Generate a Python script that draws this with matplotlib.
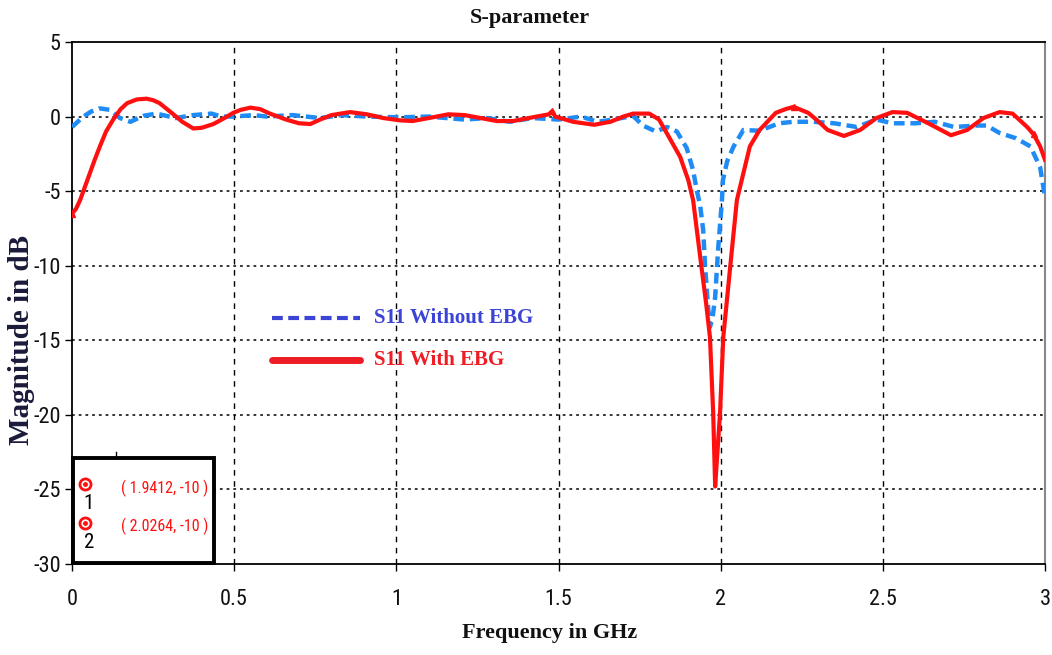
import matplotlib
matplotlib.use("Agg")
import matplotlib.pyplot as plt
from matplotlib import font_manager
from matplotlib.patches import Rectangle
from matplotlib.lines import Line2D

plt.rcParams["axes.unicode_minus"] = False

# S11 with EBG (GHz, dB)
freq_ebg = [0.0, 0.012, 0.025, 0.04, 0.055, 0.07, 0.086, 0.105, 0.127, 0.15, 0.17, 0.2, 0.23,
            0.25, 0.27, 0.29, 0.31, 0.34, 0.374, 0.40, 0.436, 0.47, 0.497, 0.52, 0.55, 0.58,
            0.61, 0.66, 0.70, 0.735, 0.765, 0.80, 0.857, 0.91, 0.96, 1.01, 1.05, 1.10, 1.16,
            1.21, 1.26, 1.31, 1.36, 1.42, 1.47, 1.48, 1.49, 1.545, 1.61, 1.66, 1.70, 1.73,
            1.78, 1.81, 1.84, 1.875, 1.90, 1.915, 1.94, 1.955, 1.967, 1.977, 1.983, 1.99,
            1.998, 2.008, 2.03, 2.05, 2.065, 2.09, 2.12, 2.17, 2.2, 2.225, 2.27, 2.30, 2.33,
            2.38, 2.43, 2.48, 2.53, 2.575, 2.64, 2.71, 2.76, 2.81, 2.86, 2.90, 2.945, 2.965,
            2.985, 3.0]
s11_ebg = [-6.5, -6.2, -5.6, -4.7, -3.8, -2.9, -2.0, -1.0, -0.2, 0.5, 0.9, 1.15, 1.2,
           1.1, 0.9, 0.55, 0.2, -0.35, -0.8, -0.75, -0.5, -0.1, 0.25, 0.45, 0.6, 0.5,
           0.2, -0.2, -0.45, -0.5, -0.2, 0.1, 0.3, 0.15, -0.1, -0.25, -0.3, -0.1, 0.15,
           0.1, -0.1, -0.3, -0.3, -0.05, 0.15, 0.35, 0.0, -0.35, -0.55, -0.35, 0.0, 0.2,
           0.2, -0.2, -1.35, -2.7, -4.25, -5.6, -9.95, -12.5, -14.8, -19.9, -24.8, -22.5,
           -19.9, -14.8, -9.95, -5.6, -4.25, -2.0, -0.9, 0.25, 0.5, 0.65, 0.25, -0.3, -0.9,
           -1.3, -0.9, -0.1, 0.3, 0.25, -0.45, -1.25, -0.9, -0.1, 0.3, 0.2, -0.7, -1.2,
           -2.0, -2.9]

# S11 without EBG (GHz, dB)
freq_plain = [0.0, 0.035, 0.06, 0.086, 0.117, 0.148, 0.18, 0.22, 0.26, 0.32, 0.374, 0.43,
              0.46, 0.5, 0.56, 0.60, 0.68, 0.765, 0.83, 0.91, 1.01, 1.1, 1.21, 1.28, 1.35,
              1.42, 1.50, 1.57, 1.62, 1.67, 1.73, 1.76, 1.80, 1.835, 1.865, 1.895, 1.915,
              1.926, 1.937, 1.946, 1.952, 1.96, 1.967, 1.975, 1.983, 1.992, 2.004, 2.007,
              2.02, 2.04, 2.07, 2.12, 2.18, 2.225, 2.285, 2.35, 2.42, 2.48, 2.53, 2.60,
              2.66, 2.72, 2.79, 2.82, 2.86, 2.91, 2.955, 2.985, 3.0]
s11_plain = [-0.7, 0.0, 0.35, 0.55, 0.45, -0.1, -0.35, 0.05, 0.2, -0.1, 0.1, 0.2,
             0.0, 0.0, 0.1, 0.0, 0.1, -0.1, 0.1, 0.0, -0.05, 0.0, -0.2, -0.1, -0.35,
             -0.1, -0.2, 0.0, -0.35, -0.2, 0.05, -0.6, -1.0, -0.7, -1.0, -2.1, -3.6,
             -4.9, -6.0, -7.6, -10.0, -12.5, -14.1, -13.5, -12.1, -8.95, -5.6, -4.25,
             -3.0, -2.0, -0.9, -0.95, -0.45, -0.35, -0.35, -0.45, -0.7, -0.2, -0.45, -0.45,
             -0.35, -0.7, -0.6, -0.6, -1.1, -1.45, -2.0, -3.4, -5.4]

# Small point markers sitting on the EBG trace
mark_freq = [0.0, 1.48, 2.225, 2.965]
mark_db = [-6.5, 0.35, 0.65, -1.2]

# Marker readouts (frequency, level)
readout_freq = [1.9412, 2.0264]
readout_db = [-10, -10]

x_ticks = [0, 0.5, 1, 1.5, 2, 2.5, 3]
x_tick_labels = ["0", "0.5", "1", "1.5", "2", "2.5", "3"]
y_ticks = [5, 0, -5, -10, -15, -20, -25, -30]

# pick a narrow sans face when one is available
available = {f.name for f in font_manager.fontManager.ttflist}
narrow = [n for n in ["Liberation Sans Narrow", "DejaVu Sans Condensed", "Roboto Condensed",
                      "Open Sans Condensed"] if n in available]
tick_font = narrow + ["Roboto", "DejaVu Sans"]
tick_stretch = "condensed"
label_font = ["Liberation Serif", "DejaVu Serif"]

fig = plt.figure(figsize=(10.52, 6.55), dpi=100)
ax = fig.add_axes([72 / 1052, 1 - 564 / 655, (1045 - 72) / 1052, (564 - 42) / 655])

ax.set_xlim(0, 3)
ax.set_ylim(-30, 5)

# grid: dotted horizontals, dashed verticals
for y in y_ticks[1:-1]:
    ax.axhline(y, color="black", lw=1.1, ls=(0, (1.8, 2.6)), zorder=1)
for x in x_ticks[1:-1]:
    ax.axvline(x, color="black", lw=1.0, ls=(0, (4, 4)), zorder=1)

ax.plot(freq_plain, s11_plain, color="#1f8bf5", lw=3.2, ls=(0, (2.4, 1.3)), zorder=3)
ax.plot(freq_ebg, s11_ebg, color="#ff1010", lw=3.0, zorder=4)
ax.plot(mark_freq, mark_db, ls="none", marker="^", ms=5, color="#ff1010", zorder=5)

ax.set_xticks(x_ticks)
ax.set_xticklabels(x_tick_labels)
ax.set_yticks(y_ticks)
ax.tick_params(direction="out", length=5, width=1, colors="black", pad=13,
               labelsize=16)
ax.tick_params(axis="y", pad=3)
for lbl in ax.get_xticklabels() + ax.get_yticklabels():
    lbl.set_fontfamily(tick_font)
    lbl.set_fontstretch(tick_stretch)
    lbl.set_color("#111111")

for side in ["left", "top", "bottom"]:
    ax.spines[side].set_color("black")
    ax.spines[side].set_linewidth(1.3)
ax.spines["right"].set_color("#888888")
ax.spines["right"].set_linewidth(1.5)

# in-plot legend
ax.add_line(Line2D([0.617, 0.888], [-13.5, -13.5], color="#3b44d4", lw=3.0,
                   ls=(0, (2.6, 1.3)), zorder=6))
ax.text(0.93, -13.5, "S11 Without EBG", color="#3b44d4", fontsize=15,
        fontweight="bold", family=label_font, va="center", ha="left", zorder=6)
ax.add_line(Line2D([0.617, 0.888], [-16.3, -16.3], color="#ee1c24", lw=5.0,
                   solid_capstyle="round", zorder=6))
ax.text(0.93, -16.3, "S11 With EBG", color="#ee1c24", fontsize=15,
        fontweight="bold", family=label_font, va="center", ha="left", zorder=6)

# marker readout box
ax.add_patch(Rectangle((0.004, -29.9), 0.434, 7.0, facecolor="white",
                       edgecolor="black", lw=2.8, zorder=7, clip_on=False))
ax.add_line(Line2D([0.136, 0.136], [-22.9, -22.5], color="black", lw=1.0, zorder=7))
row_y = [-24.9, -27.5]
for i, (f, d) in enumerate(zip(readout_freq, readout_db)):
    ax.plot(0.04, row_y[i] + 0.25, marker="o", ms=8, mfc="white", mec="#ff1010",
            mew=2.0, zorder=8, clip_on=False)
    ax.plot(0.04, row_y[i] + 0.25, marker="o", ms=2.5, color="#ff1010", zorder=9,
            clip_on=False)
    ax.text(0.052, row_y[i] - 1.05, str(i + 1), color="black", fontsize=15,
            family=tick_font, fontstretch=tick_stretch, ha="center", va="center", zorder=9)
    ax.text(0.152, row_y[i], f"( {f:.4f}, {d:d} )", color="#ff1010", fontsize=11.5,
            family=tick_font, fontstretch=tick_stretch, ha="left", va="center", zorder=9)

fig.text(530 / 1052, 1 - 18 / 655, "S-parameter", fontsize=16, fontweight="bold",
         family=label_font, ha="center", va="center", color="#111111")
fig.text(550 / 1052, 1 - 633 / 655, "Frequency in GHz", fontsize=16, fontweight="bold",
         family=label_font, ha="center", va="center", color="#111111")
fig.text(22 / 1052, 1 - 340 / 655, "Magnitude in dB", fontsize=21, fontweight="bold",
         family=label_font, ha="center", va="center", rotation=90, color="#1a1a3a")

fig.savefig("out.png", dpi=100, facecolor="white")
